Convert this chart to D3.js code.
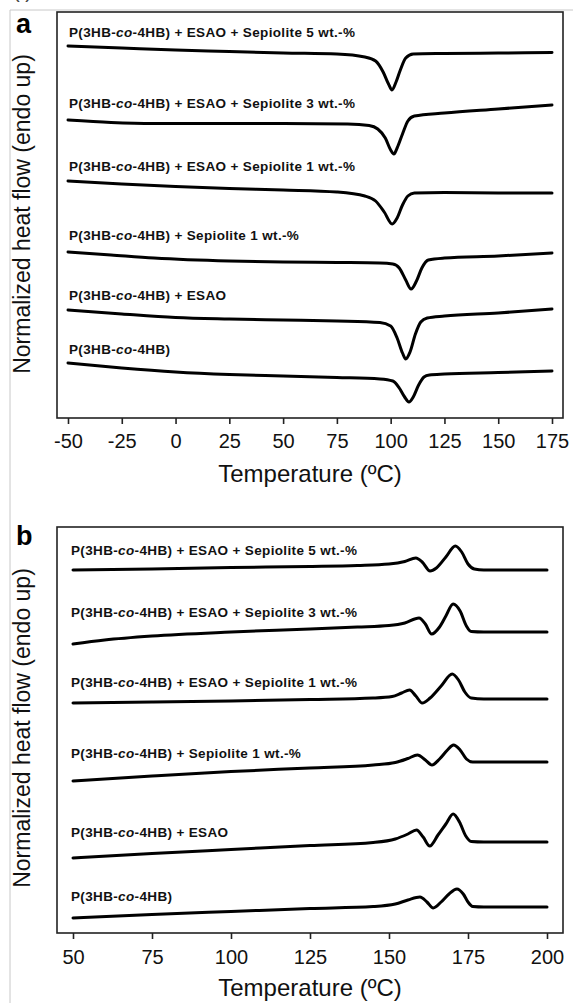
<!DOCTYPE html>
<html>
<head>
    <title>DSC</title>
    <style>
        html, body {
            margin: 0;
            padding: 0;
            background-color: #ffffff;
            overflow: hidden;
        }
        text {
            font-family: "Liberation Sans", Arial, sans-serif;
        }
    </style>
</head>
<body>
    <div id="container"></div>

    <script src="https://cdnjs.cloudflare.com/ajax/libs/d3/7.8.5/d3.min.js"></script>

    <script>
        // sample names, top curve first
        var samples = [
            ["P(3HB-", "co", "-4HB) + ESAO + Sepiolite 5 wt.-%"],
            ["P(3HB-", "co", "-4HB) + ESAO + Sepiolite 3 wt.-%"],
            ["P(3HB-", "co", "-4HB) + ESAO + Sepiolite 1 wt.-%"],
            ["P(3HB-", "co", "-4HB) + Sepiolite 1 wt.-%"],
            ["P(3HB-", "co", "-4HB) + ESAO"],
            ["P(3HB-", "co", "-4HB)"]
        ];

        // (a) cooling scans, [T (ºC), heat flow (a.u., stacked)]
        var coolSep5 = [[-50, 372], [-25, 370], [0, 368], [25, 366.5], [50, 365], [75, 364], [88, 361], [93, 357], [96.5, 346], [99, 334], [100.6, 328], [102.5, 336], [104.5, 348], [107, 360], [110.5, 364], [125, 364.5], [150, 365], [175, 365.5]];
        var coolSep3 = [[-50, 298], [-30, 295.5], [-10, 294.5], [25, 294.5], [50, 294.5], [80, 294], [90, 292.5], [94, 289], [97.5, 280], [100, 268], [101.5, 264], [103, 270], [105.5, 284], [108, 297], [111, 302], [125, 305], [150, 309], [175, 313]];
        var coolSep1 = [[-50, 237], [-25, 234], [0, 231.5], [25, 229.5], [50, 228], [75, 226], [88, 222], [93, 217], [97, 206], [100.7, 194], [103, 200], [105.5, 213], [108, 222], [111, 225], [125, 225.5], [150, 225], [175, 225]];
        var coolSepOnly = [[-50, 166], [-30, 163], [-10, 160], [25, 157], [50, 156], [75, 155.5], [95, 155], [101, 154], [104, 150], [107, 138], [109.5, 129], [112, 137], [114.5, 150], [117.5, 158], [125, 160], [150, 162], [175, 165]];
        var coolEsao = [[-50, 108], [-25, 104], [0, 100.5], [25, 99], [50, 98], [75, 97], [95, 95.5], [100, 92], [103, 80], [105.5, 65], [107, 59], [109, 66], [111.5, 84], [114, 96], [117, 100], [125, 102], [150, 105], [175, 109]];
        var coolNeat = [[-50, 55], [-25, 50], [0, 46], [25, 43.5], [50, 42], [75, 40.5], [95, 39], [101, 37], [104, 30], [106.5, 21], [108.5, 16], [110.5, 21], [113, 33], [115.5, 41], [118, 43], [125, 44], [150, 45.5], [175, 47]];

        // (b) heating scans
        var heatSep5 = [[50, 363], [75, 364], [100, 365.5], [125, 366.5], [140, 367.5], [150, 369], [155, 371.5], [158.5, 375], [160.5, 371], [163, 362], [165, 365], [168, 376], [171, 387], [173, 381], [175, 369], [177, 364], [180, 363], [200, 363]];
        var heatSep3 = [[50, 289], [60, 293], [75, 297], [100, 301], [125, 304], [140, 306], [150, 307.5], [155, 310], [159.5, 315], [161.5, 309], [163.5, 299], [166, 306], [168, 317], [170.3, 329], [172.5, 322], [174.5, 307], [176, 301.5], [180, 301], [200, 301]];
        var heatSep1 = [[50, 230], [75, 231], [100, 232], [125, 233.5], [145, 235], [151, 236.5], [154, 240], [156.5, 243], [158.5, 237], [160.5, 230], [163, 235], [166.5, 247], [170, 259], [172, 253], [174, 241], [176, 235], [180, 234], [200, 234]];
        var heatSepOnly = [[50, 152], [75, 157], [100, 161.5], [125, 165], [145, 168], [152, 170.5], [156, 174.5], [159, 178], [161.5, 173], [163.6, 168], [166, 174], [168.5, 183], [170.4, 188], [172.5, 183], [174.5, 174], [176.5, 171], [180, 171], [200, 171]];
        var heatEsao = [[50, 75], [75, 79.5], [100, 83.5], [125, 87.5], [145, 90.5], [152, 94], [156, 99], [158.7, 103], [160.8, 96], [162.9, 87], [165.5, 98], [168, 109], [170.3, 119], [172.3, 111], [174.3, 97], [176, 91.5], [180, 91], [200, 91]];
        var heatNeat = [[50, 15], [75, 18.5], [100, 21.5], [125, 24.5], [145, 26.5], [152, 29], [156, 33], [159.8, 36], [162, 31], [164, 25], [166.5, 31], [169, 39], [171.5, 44], [173.5, 39], [175, 31], [176.5, 26.5], [180, 26], [200, 26]];

        var ticksA = [-50, -25, 0, 25, 50, 75, 100, 125, 150, 175];
        var ticksB = [50, 75, 100, 125, 150, 175, 200];

        var width = 573, height = 1003;

        var svg = d3.select("div#container")
            .append("svg")
            .attr("width", width)
            .attr("height", height);

        // page edges from the source scan
        svg.append("line")
            .attr("x1", 10).attr("y1", 10).attr("x2", width).attr("y2", 10)
            .style("stroke", "#c8c8c8").style("stroke-width", 1);
        svg.append("line")
            .attr("x1", 10).attr("y1", 10).attr("x2", 10).attr("y2", height)
            .style("stroke", "#c8c8c8").style("stroke-width", 1);
        // bottom of the caption above, cut off in the scan
        svg.append("text")
            .attr("x", 13).attr("y", -2)
            .style("font-size", "20px").style("fill", "#444")
            .text("(          )");

        function drawPanel(p) {
            var x = d3.scaleLinear().domain(p.xDomain).range([p.x0, p.x1]);
            var y = d3.scaleLinear().domain([0, 406]).range([p.bottom, p.top]);

            var g = svg.append("g");

            g.append("rect")
                .attr("x", p.left)
                .attr("y", p.top)
                .attr("width", p.right - p.left)
                .attr("height", p.bottom - p.top)
                .style("fill", "none")
                .style("stroke", "#222")
                .style("stroke-width", 1.6);

            var axis = g.append("g")
                .attr("transform", "translate(0," + p.bottom + ")")
                .call(d3.axisBottom(x).tickValues(p.ticks).tickSize(6).tickSizeOuter(0)
                    .tickFormat(function (d) { return String(d); }));
            axis.select(".domain").remove();
            axis.selectAll(".tick line").style("stroke", "#222").style("stroke-width", 1.6);
            axis.selectAll(".tick text")
                .attr("y", 0)
                .attr("dy", p.tickDy)
                .style("font-family", "'Liberation Sans', Arial, sans-serif")
                .style("font-size", "20px")
                .style("fill", "#111");

            g.append("text")
                .attr("x", (p.left + p.right) / 2)
                .attr("y", p.titleY)
                .attr("text-anchor", "middle")
                .style("font-size", "24px")
                .style("fill", "#111")
                .text("Temperature (ºC)");

            g.append("text")
                .attr("transform", "translate(30," + p.yTitleMid + ") rotate(-90)")
                .attr("text-anchor", "middle")
                .style("font-size", "23px")
                .style("fill", "#111")
                .text("Normalized heat flow (endo up)");

            g.append("text")
                .attr("x", 16)
                .attr("y", p.letterY)
                .style("font-size", "27px")
                .style("font-weight", "bold")
                .style("fill", "#000")
                .text(p.letter);

            var line = d3.line()
                .x(function (d) { return x(d[0]); })
                .y(function (d) { return y(d[1]); })
                .curve(d3.curveMonotoneX);

            g.selectAll("path.curve")
                .data(p.series)
                .enter().append("path")
                .attr("class", "curve")
                .attr("d", line)
                .style("fill", "none")
                .style("stroke", "#000")
                .style("stroke-width", 3)
                .style("stroke-linejoin", "round")
                .style("stroke-linecap", "round");

            var labels = g.selectAll("text.lab")
                .data(p.series)
                .enter().append("text")
                .attr("class", "lab")
                .attr("x", x(p.xDomain[0]) + p.labelDx)
                .attr("y", function (d, i) { return y(d[0][1]) + p.labelDy[i]; })
                .style("font-size", "13.5px")
                .style("letter-spacing", "0.35px")
                .style("font-weight", "bold")
                .style("fill", "#111");

            labels.each(function (d, i) {
                var t = d3.select(this);
                t.append("tspan").text(samples[i][0]);
                t.append("tspan").style("font-style", "italic").text(samples[i][1]);
                t.append("tspan").text(samples[i][2]);
            });
        }

        drawPanel({
            letter: "a",
            letterY: 33,
            xDomain: [-50, 175],
            x0: 68, x1: 552,
            left: 57, right: 563, top: 12, bottom: 418,
            ticks: ticksA,
            tickDy: 30,
            titleY: 482,
            yTitleMid: 214,
            labelDx: 1,
            labelDy: [-9, -12, -10, -12, -10, -9],
            series: [coolSep5, coolSep3, coolSep1, coolSepOnly, coolEsao, coolNeat]
        });

        drawPanel({
            letter: "b",
            letterY: 545,
            xDomain: [50, 200],
            x0: 73, x1: 547,
            left: 57, right: 563, top: 527, bottom: 933,
            ticks: ticksB,
            tickDy: 31,
            titleY: 996,
            yTitleMid: 728,
            labelDx: -2,
            labelDy: [-15, -27, -16, -23, -21, -17],
            series: [heatSep5, heatSep3, heatSep1, heatSepOnly, heatEsao, heatNeat]
        });
    </script>
</body>
</html>
